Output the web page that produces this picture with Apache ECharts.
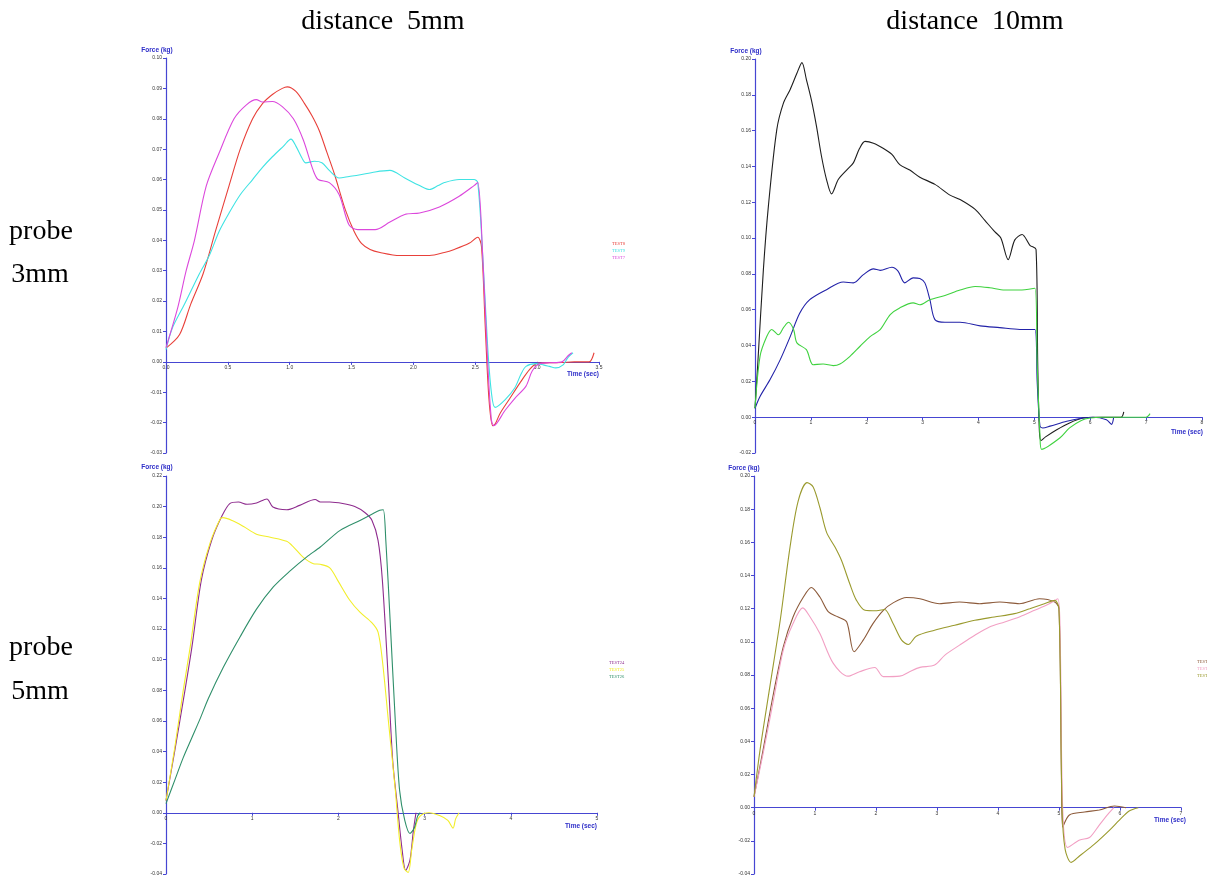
<!DOCTYPE html>
<html><head><meta charset="utf-8">
<script src="https://cdn.jsdelivr.net/npm/echarts@6/dist/echarts.min.js"></script>
<style>html,body{margin:0;padding:0;background:#fff}#c{width:1207px;height:878px}</style>
</head><body><div id="c"></div>
<script>
// ---------- titles ----------
const columnTitles = ['distance  5mm', 'distance  10mm'];
const rowTitles = [['probe', '3mm'], ['probe', '5mm']];
const yAxisTitle = 'Force (kg)';
const xAxisTitle = 'Time (sec)';

// ---------- panel 1 : probe 3mm, distance 5mm ----------
const p1Names = ['TEST8', 'TEST9', 'TEST7'];
const p1Red = [[0,0.0045],[0.11,0.009],[0.2,0.019],[0.30,0.029],[0.40,0.043],[0.51,0.058],[0.60,0.070],[0.70,0.080],[0.78,0.085],[0.86,0.088],[0.94,0.090],[0.98,0.0905],[1.05,0.089],[1.12,0.085],[1.18,0.081],[1.24,0.076],[1.30,0.069],[1.36,0.062],[1.45,0.050],[1.52,0.043],[1.58,0.039],[1.65,0.037],[1.73,0.036],[1.89,0.035],[2.0,0.035],[2.13,0.035],[2.25,0.036],[2.33,0.037],[2.45,0.039],[2.52,0.041],[2.55,0.038],[2.58,0.012],[2.61,-0.012],[2.64,-0.021],[2.66,-0.0205],[2.70,-0.017],[2.78,-0.012],[2.86,-0.007],[2.94,-0.0025],[3.0,-0.0005],[3.1,-0.0003],[3.2,-0.0002],[3.3,0],[3.42,0],[3.46,0.003]];
const p1Cyan = [[0,0.004],[0.05,0.011],[0.15,0.019],[0.27,0.029],[0.35,0.035],[0.43,0.043],[0.51,0.049],[0.60,0.055],[0.70,0.060],[0.78,0.064],[0.86,0.0675],[0.95,0.071],[1.01,0.0733],[1.05,0.071],[1.10,0.067],[1.13,0.0655],[1.2,0.066],[1.26,0.0655],[1.32,0.063],[1.40,0.0605],[1.48,0.061],[1.56,0.0615],[1.69,0.0625],[1.81,0.063],[1.93,0.0605],[2.05,0.058],[2.13,0.0567],[2.2,0.058],[2.25,0.059],[2.37,0.060],[2.49,0.060],[2.52,0.059],[2.56,0.035],[2.60,0.005],[2.63,-0.01],[2.66,-0.015],[2.74,-0.0125],[2.82,-0.0085],[2.87,-0.004],[2.91,-0.0015],[2.99,-0.0006],[3.05,-0.001],[3.10,-0.0015],[3.15,-0.002],[3.21,-0.001],[3.25,0.0015],[3.29,0.003]];
const p1Magenta = [[0,0.0047],[0.096,0.018],[0.163,0.030],[0.23,0.040],[0.325,0.0578],[0.43,0.0688],[0.55,0.080],[0.65,0.0846],[0.73,0.0863],[0.78,0.0855],[0.86,0.0857],[0.94,0.084],[1.03,0.080],[1.11,0.073],[1.19,0.063],[1.23,0.060],[1.32,0.059],[1.40,0.055],[1.48,0.045],[1.55,0.0435],[1.69,0.0435],[1.81,0.046],[1.93,0.0485],[2.05,0.049],[2.21,0.051],[2.37,0.0545],[2.49,0.058],[2.52,0.059],[2.56,0.035],[2.60,0.0],[2.63,-0.019],[2.65,-0.021],[2.74,-0.016],[2.82,-0.012],[2.91,-0.008],[2.96,-0.003],[3.02,-0.0006],[3.1,-0.0003],[3.2,0],[3.25,0.002],[3.28,0.003]];

// ---------- panel 2 : probe 3mm, distance 10mm ----------
const p2Names = ['TEST4', 'TEST5', 'TEST6'];
const p2Black = [[0,0.005],[0.05,0.03],[0.15,0.0824],[0.24,0.118],[0.39,0.1606],[0.51,0.1755],[0.63,0.183],[0.75,0.192],[0.84,0.198],[0.92,0.1885],[1.01,0.177],[1.10,0.1625],[1.19,0.1457],[1.28,0.1327],[1.37,0.1247],[1.49,0.1327],[1.64,0.138],[1.76,0.142],[1.87,0.150],[1.97,0.154],[2.12,0.153],[2.30,0.150],[2.45,0.1467],[2.59,0.141],[2.77,0.138],[2.95,0.134],[3.22,0.130],[3.49,0.124],[3.67,0.1215],[3.94,0.116],[4.11,0.110],[4.29,0.1036],[4.40,0.100],[4.53,0.088],[4.65,0.099],[4.78,0.102],[4.92,0.096],[5.03,0.0936],[5.06,0.03],[5.09,-0.008],[5.12,-0.013],[5.2,-0.011],[5.40,-0.007],[5.63,-0.0032],[5.87,-0.0005],[6.1,0],[6.55,0],[6.6,0.003]];
const p2Blue = [[0,0.005],[0.09,0.0116],[0.27,0.021],[0.45,0.032],[0.63,0.045],[0.80,0.058],[0.98,0.0656],[1.28,0.0712],[1.58,0.0755],[1.76,0.075],[1.94,0.0796],[2.12,0.0828],[2.24,0.082],[2.45,0.0837],[2.56,0.0815],[2.68,0.075],[2.83,0.0778],[2.95,0.0774],[3.04,0.075],[3.13,0.0656],[3.22,0.0545],[3.40,0.053],[3.67,0.053],[4.03,0.051],[4.38,0.050],[4.74,0.049],[5.01,0.049],[5.05,0.02],[5.1,-0.005],[5.15,-0.006],[5.28,-0.005],[5.58,-0.0023],[5.87,-0.0005],[6.05,0],[6.29,-0.0014],[6.38,-0.004],[6.42,0.0]];
const p2Green = [[0,0.005],[0.09,0.034],[0.21,0.045],[0.30,0.049],[0.42,0.046],[0.51,0.050],[0.60,0.053],[0.69,0.049],[0.75,0.0415],[0.92,0.0377],[1.04,0.0293],[1.22,0.0297],[1.40,0.0288],[1.52,0.0297],[1.70,0.034],[1.88,0.0396],[2.06,0.045],[2.24,0.0489],[2.42,0.0573],[2.59,0.061],[2.83,0.0638],[2.95,0.0628],[3.13,0.0656],[3.40,0.068],[3.67,0.071],[3.94,0.073],[4.20,0.0723],[4.47,0.071],[4.74,0.071],[5.01,0.072],[5.05,0.03],[5.10,-0.01],[5.13,-0.018],[5.46,-0.0115],[5.63,-0.006],[5.84,-0.0018],[6.0,-0.0005],[6.2,0],[7.0,0],[7.07,0.002]];

// ---------- panel 3 : probe 5mm, distance 5mm ----------
const p3Names = ['TEST24', 'TEST25', 'TEST26'];
const p3Purple = [[0,0.008],[0.1,0.040],[0.22,0.080],[0.30,0.108],[0.41,0.152],[0.53,0.178],[0.65,0.194],[0.74,0.202],[0.84,0.203],[0.94,0.2015],[1.05,0.2024],[1.17,0.205],[1.24,0.1997],[1.40,0.198],[1.55,0.2008],[1.73,0.2046],[1.79,0.203],[1.90,0.203],[2.05,0.202],[2.19,0.200],[2.31,0.196],[2.39,0.191],[2.46,0.178],[2.51,0.152],[2.58,0.086],[2.63,0.034],[2.69,0.0016],[2.74,-0.0245],[2.78,-0.0376],[2.83,-0.031],[2.87,-0.0115],[2.90,0]];
const p3Yellow = [[0,0.008],[0.1,0.042],[0.20,0.080],[0.28,0.108],[0.39,0.150],[0.51,0.176],[0.63,0.192],[0.66,0.1928],[0.78,0.1906],[0.90,0.187],[1.05,0.182],[1.21,0.180],[1.40,0.1773],[1.48,0.1736],[1.59,0.167],[1.71,0.1627],[1.79,0.1623],[1.90,0.160],[1.99,0.152],[2.13,0.139],[2.25,0.131],[2.39,0.124],[2.46,0.118],[2.51,0.0996],[2.58,0.060],[2.66,0.015],[2.71,-0.018],[2.76,-0.036],[2.81,-0.039],[2.85,-0.0245],[2.90,-0.008],[2.95,-0.002],[3.05,0],[3.18,-0.002],[3.27,-0.005],[3.33,-0.010],[3.36,-0.004],[3.4,0.0]];
const p3Green = [[0,0.006],[0.1,0.021],[0.2,0.036],[0.3,0.049],[0.4,0.062],[0.49,0.0745],[0.665,0.095],[0.86,0.115],[1.05,0.133],[1.245,0.1475],[1.44,0.158],[1.63,0.167],[1.79,0.1736],[2.02,0.1845],[2.25,0.191],[2.48,0.1976],[2.52,0.198],[2.55,0.178],[2.60,0.1257],[2.66,0.060],[2.71,0.0146],[2.77,-0.005],[2.83,-0.0135],[2.88,-0.010],[2.92,-0.002],[2.95,0]];

// ---------- panel 4 : probe 5mm, distance 10mm ----------
const p4Names = ['TEST1', 'TEST2', 'TEST3'];
const p4Brown = [[0,0.0065],[0.15,0.035],[0.32,0.069],[0.48,0.097],[0.64,0.115],[0.81,0.127],[0.94,0.1328],[1.08,0.127],[1.22,0.118],[1.38,0.115],[1.52,0.112],[1.64,0.094],[1.79,0.101],[1.95,0.111],[2.12,0.119],[2.28,0.1235],[2.50,0.1267],[2.72,0.126],[3.04,0.123],[3.37,0.124],[3.70,0.123],[4.03,0.124],[4.35,0.123],[4.68,0.126],[4.93,0.124],[5.0,0.12],[5.04,0.02],[5.06,-0.0117],[5.17,-0.0044],[5.42,-0.0026],[5.66,-0.0014],[5.91,0.001],[6.1,0.0]];
const p4Pink = [[0,0.0065],[0.15,0.0328],[0.32,0.065],[0.48,0.095],[0.64,0.111],[0.80,0.1205],[0.92,0.115],[1.08,0.105],[1.30,0.087],[1.54,0.0793],[1.73,0.082],[1.98,0.0845],[2.12,0.079],[2.39,0.0793],[2.55,0.082],[2.72,0.0846],[2.96,0.086],[3.13,0.092],[3.37,0.098],[3.62,0.104],[3.86,0.109],[4.11,0.112],[4.35,0.115],[4.60,0.119],[4.84,0.123],[4.98,0.126],[5.02,0.1],[5.06,0.0],[5.14,-0.024],[5.34,-0.0195],[5.50,-0.018],[5.66,-0.0105],[5.8,-0.004],[5.9,0.0]];
const p4Olive = [[0,0.0065],[0.10,0.035],[0.26,0.073],[0.43,0.113],[0.59,0.157],[0.725,0.185],[0.87,0.196],[0.97,0.1934],[1.08,0.181],[1.19,0.166],[1.33,0.157],[1.435,0.149],[1.57,0.135],[1.68,0.125],[1.82,0.119],[2.01,0.1187],[2.14,0.1195],[2.28,0.111],[2.42,0.101],[2.53,0.0984],[2.66,0.1034],[2.96,0.107],[3.29,0.110],[3.62,0.113],[3.94,0.115],[4.27,0.117],[4.52,0.120],[4.76,0.123],[4.93,0.125],[5.0,0.12],[5.05,0.0],[5.1,-0.025],[5.2,-0.033],[5.34,-0.029],[5.58,-0.022],[5.83,-0.0135],[5.99,-0.0075],[6.15,-0.002],[6.3,0]];

// ---------- axis ranges ----------
const p1X = {min: 0, max: 3.5, step: 0.5, dec: 1};
const p1Y = {min: -0.03, max: 0.10, step: 0.01, dec: 2};
const p2X = {min: 0, max: 8, step: 1, dec: 0};
const p2Y = {min: -0.02, max: 0.20, step: 0.02, dec: 2};
const p3X = {min: 0, max: 5, step: 1, dec: 0};
const p3Y = {min: -0.04, max: 0.22, step: 0.02, dec: 2};
const p4X = {min: 0, max: 7, step: 1, dec: 0};
const p4Y = {min: -0.04, max: 0.20, step: 0.02, dec: 2};

const AXIS_COLOR = '#4646d2';
const LABEL_COLOR = '#333';
const fmt = d => v => (Math.abs(v) < 1e-9 ? 0 : v).toFixed(d);

const panels = [
  {grid: {left: 166, top: 58, width: 433, height: 395}, x: p1X, y: p1Y,
   series: [[p1Names[0], p1Red, '#e8403a'], [p1Names[1], p1Cyan, '#3fe3e3'], [p1Names[2], p1Magenta, '#dc48dc']],
   legend: [612, 244], yTitle: [157, 50], xTitle: [599, 374]},
  {grid: {left: 755, top: 59, width: 447, height: 394}, x: p2X, y: p2Y,
   series: [[p2Names[0], p2Black, '#1e1e1e'], [p2Names[1], p2Blue, '#2222a8'], [p2Names[2], p2Green, '#3fd23f']],
   legend: null, yTitle: [746, 51], xTitle: [1203, 432]},
  {grid: {left: 166, top: 476, width: 431, height: 398}, x: p3X, y: p3Y,
   series: [[p3Names[0], p3Purple, '#8e2c8e'], [p3Names[1], p3Yellow, '#f2ee2a'], [p3Names[2], p3Green, '#2f8f6a']],
   legend: [609, 663], yTitle: [157, 467], xTitle: [597, 826]},
  {grid: {left: 754, top: 476, width: 427, height: 398}, x: p4X, y: p4Y,
   series: [[p4Names[0], p4Brown, '#8c5a3a'], [p4Names[1], p4Pink, '#f2a0c4'], [p4Names[2], p4Olive, '#9a9a2e']],
   legend: [1197, 662], yTitle: [744, 468], xTitle: [1186, 820]}
];

const grids = [], xAxes = [], yAxes = [], series = [], graphics = [];
panels.forEach((p, i) => {
  grids.push(Object.assign({containLabel: false}, p.grid));
  // place the time axis on the zero line of the force axis
  const zeroOffset = -p.grid.height * (0 - p.y.min) / (p.y.max - p.y.min);
  xAxes.push({
    type: 'value', gridIndex: i, min: p.x.min, max: p.x.max, interval: p.x.step,
    position: 'bottom', offset: zeroOffset,
    axisLine: {onZero: false, lineStyle: {color: AXIS_COLOR, width: 1.2}},
    axisTick: {show: true, length: 3, lineStyle: {color: AXIS_COLOR}},
    axisLabel: {fontSize: 5, color: LABEL_COLOR, margin: 3, fontFamily: 'Liberation Sans', formatter: fmt(p.x.dec)},
    splitLine: {show: false}
  });
  yAxes.push({
    type: 'value', gridIndex: i, min: p.y.min, max: p.y.max, interval: p.y.step,
    axisLine: {show: true, onZero: false, lineStyle: {color: AXIS_COLOR, width: 1.2}},
    axisTick: {show: true, length: 3, lineStyle: {color: AXIS_COLOR}},
    axisLabel: {fontSize: 5, color: LABEL_COLOR, margin: 4, fontFamily: 'Liberation Sans', formatter: fmt(p.y.dec)},
    splitLine: {show: false}
  });
  p.series.forEach(([name, data, color]) => {
    series.push({
      type: 'line', name, data, xAxisIndex: i, yAxisIndex: i,
      showSymbol: false, symbol: 'none', animation: false,
      smooth: 0.3,
      lineStyle: {color, width: 1.1}, itemStyle: {color}
    });
  });
  graphics.push({type: 'text', x: p.yTitle[0], y: p.yTitle[1],
    style: {text: yAxisTitle, fill: '#2d2dc8', fontSize: 6.5, fontWeight: 'bold', fontFamily: 'Liberation Sans', align: 'center', verticalAlign: 'middle'}});
  graphics.push({type: 'text', x: p.xTitle[0], y: p.xTitle[1],
    style: {text: xAxisTitle, fill: '#2d2dc8', fontSize: 6.5, fontWeight: 'bold', fontFamily: 'Liberation Sans', align: 'right', verticalAlign: 'middle'}});
  if (p.legend) {
    p.series.forEach(([name, , color], k) => {
      graphics.push({type: 'text', x: p.legend[0], y: p.legend[1] + k * 7,
        style: {text: name, fill: color, fontSize: 4.5, fontFamily: 'Liberation Serif', align: 'left', verticalAlign: 'middle'}});
    });
  }
});

const titleFont = {fontSize: 28, fontFamily: 'Liberation Serif', fill: '#000', align: 'center', verticalAlign: 'middle'};
graphics.push({type: 'text', x: 383, y: 22, style: Object.assign({text: columnTitles[0]}, titleFont)});
graphics.push({type: 'text', x: 975, y: 22, style: Object.assign({text: columnTitles[1]}, titleFont)});
graphics.push({type: 'text', x: 41, y: 232, style: Object.assign({text: rowTitles[0][0]}, titleFont)});
graphics.push({type: 'text', x: 40, y: 275, style: Object.assign({text: rowTitles[0][1]}, titleFont)});
graphics.push({type: 'text', x: 41, y: 648, style: Object.assign({text: rowTitles[1][0]}, titleFont)});
graphics.push({type: 'text', x: 40, y: 692, style: Object.assign({text: rowTitles[1][1]}, titleFont)});

const chart = echarts.init(document.getElementById('c'), null, {renderer: 'canvas'});
chart.setOption({
  backgroundColor: '#fff',
  animation: false,
  grid: grids, xAxis: xAxes, yAxis: yAxes, series,
  graphic: graphics
});
</script></body></html>
